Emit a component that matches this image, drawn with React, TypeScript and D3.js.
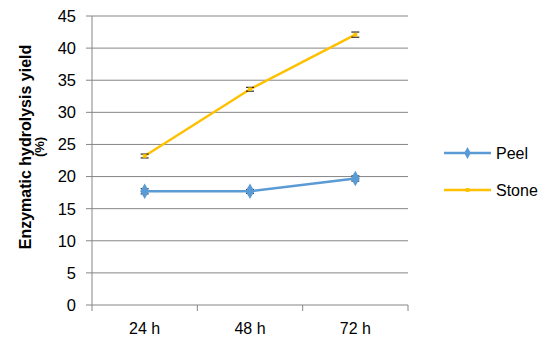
import React, { useRef, useEffect } from "react";
import * as d3 from "d3";

const categories = ["24 h", "48 h", "72 h"];
const peel = [17.7, 17.7, 19.7];
const stone = [23.2, 33.6, 42.1];
const peelErr = [0.4, 0.3, 0.4];
const stoneErr = [0.3, 0.3, 0.4];
const yTicks = [0, 5, 10, 15, 20, 25, 30, 35, 40, 45];

const series = [
    { name: "Peel", values: peel, errors: peelErr, color: "#5b9bd5", marker: "diamond" },
    { name: "Stone", values: stone, errors: stoneErr, color: "#ffc000", marker: "square" },
];

const width = 550;
const height = 345;
const margin = { top: 16, right: 142, bottom: 40, left: 92 };

const App = () => {
    const ref = useRef<SVGSVGElement>(null);

    useEffect(() => {
        const svg = d3.select(ref.current);
        svg.selectAll("*").remove();

        const x = d3
            .scaleBand()
            .domain(categories)
            .range([margin.left, width - margin.right]);
        const y = d3
            .scaleLinear()
            .domain([0, 45])
            .range([height - margin.bottom, margin.top]);

        const font = "Liberation Sans, Arial, sans-serif";

        // gridlines
        svg.append("g")
            .selectAll("line")
            .data(yTicks)
            .enter()
            .append("line")
            .attr("x1", margin.left - 6)
            .attr("x2", width - margin.right)
            .attr("y1", (d) => y(d))
            .attr("y2", (d) => y(d))
            .attr("stroke", "#868686")
            .attr("stroke-width", 1);

        // y axis line
        svg.append("line")
            .attr("x1", margin.left)
            .attr("x2", margin.left)
            .attr("y1", y(45))
            .attr("y2", y(0))
            .attr("stroke", "#868686");

        // x tick marks
        const bounds = categories.map((c) => x(c)!).concat([width - margin.right]);
        svg.append("g")
            .selectAll("line")
            .data(bounds)
            .enter()
            .append("line")
            .attr("x1", (d) => d)
            .attr("x2", (d) => d)
            .attr("y1", y(0))
            .attr("y2", y(0) + 6)
            .attr("stroke", "#868686");

        // y tick labels
        svg.append("g")
            .selectAll("text")
            .data(yTicks)
            .enter()
            .append("text")
            .attr("x", margin.left - 16)
            .attr("y", (d) => y(d))
            .attr("dy", "0.36em")
            .attr("text-anchor", "end")
            .style("font-family", font)
            .style("font-size", "16.5px")
            .text((d) => d);

        // x labels
        svg.append("g")
            .selectAll("text")
            .data(categories)
            .enter()
            .append("text")
            .attr("x", (d) => x(d)! + x.bandwidth() / 2)
            .attr("y", y(0) + 29)
            .attr("text-anchor", "middle")
            .style("font-family", font)
            .style("font-size", "16px")
            .text((d) => d);

        // y title
        const title = svg
            .append("text")
            .attr("transform", `translate(31, 147) rotate(-90)`)
            .attr("text-anchor", "middle")
            .style("font-family", font)
            .style("font-weight", "bold")
            .style("font-size", "16px");
        title.append("tspan").attr("x", 0).attr("dy", 0).text("Enzymatic hydrolysis yield");
        title.append("tspan").attr("x", 0).attr("dy", "1.0em").style("font-size", "13px").text("(%)");

        const cx = (i: number) => x(categories[i])! + x.bandwidth() / 2;
        const line = d3
            .line<number>()
            .x((_, i) => cx(i))
            .y((d) => y(d));

        series.forEach((s) => {
            const g = svg.append("g");
            g.append("path")
                .datum(s.values)
                .attr("d", line)
                .attr("fill", "none")
                .attr("stroke", s.color)
                .attr("stroke-width", 2.5);

            // error bars
            s.values.forEach((v, i) => {
                [v - s.errors[i], v + s.errors[i]].forEach((e) => {
                    g.append("line")
                        .attr("x1", cx(i) - 4)
                        .attr("x2", cx(i) + 4)
                        .attr("y1", y(e))
                        .attr("y2", y(e))
                        .attr("stroke", "#000")
                        .attr("stroke-width", 1);
                });
            });

            const sym = d3
                .symbol()
                .type(s.marker === "diamond" ? d3.symbolDiamond : d3.symbolSquare)
                .size(s.marker === "diamond" ? 70 : 14);
            g.selectAll("path.m")
                .data(s.values)
                .enter()
                .append("path")
                .attr("class", "m")
                .attr("d", sym)
                .attr("transform", (d, i) => `translate(${cx(i)},${y(d)})`)
                .attr("fill", s.color);
        });

        // legend
        const legend = svg.append("g");
        series.forEach((s, i) => {
            const ly = 153 + i * 37;
            legend.append("line")
                .attr("x1", 444)
                .attr("x2", 491)
                .attr("y1", ly)
                .attr("y2", ly)
                .attr("stroke", s.color)
                .attr("stroke-width", 2.5);
            legend.append("path")
                .attr("d", d3.symbol().type(s.marker === "diamond" ? d3.symbolDiamond : d3.symbolSquare).size(s.marker === "diamond" ? 40 : 14))
                .attr("transform", `translate(467.5,${ly})`)
                .attr("fill", s.color);
            legend.append("text")
                .attr("x", 496)
                .attr("y", ly)
                .attr("dy", "0.36em")
                .style("font-family", font)
                .style("font-size", "16px")
                .text(s.name);
        });
    });

    return (
        <svg
            ref={ref}
            width={width}
            height={height}
            style={{ display: "block", margin: -8, background: "#fff" }}
        />
    );
};

export default App;
